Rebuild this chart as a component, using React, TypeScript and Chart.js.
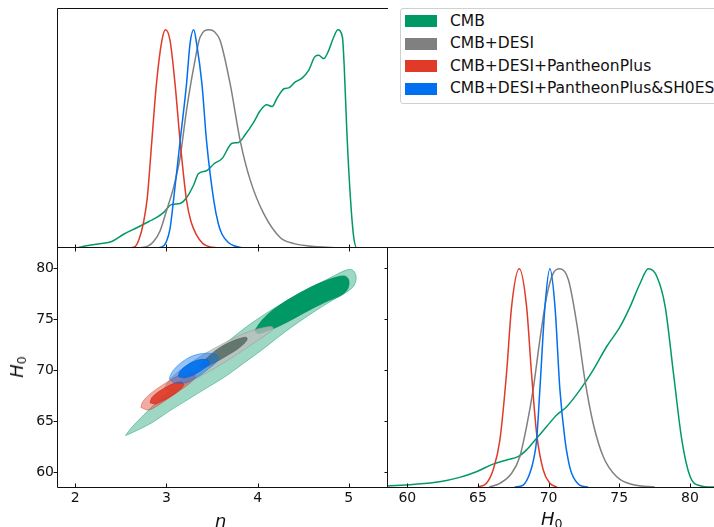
import React, { useEffect, useRef } from "react";
import { Chart, registerables } from "chart.js";
Chart.register(...registerables);

// ---------- axes ----------
const N_TICKS = [2, 3, 4, 5];
const H0_TICKS = [60, 65, 70, 75, 80];
const N_RANGE = [1.8, 5.43];
const H0_RANGE = [58.56, 82.06];
const P_RANGE = [0, 1.1];

// ---------- series ----------
const SERIES = ["CMB", "CMB+DESI", "CMB+DESI+PantheonPlus", "CMB+DESI+PantheonPlus&SH0ES"];
const COLORS = ["#009966", "#808080", "#e03a28", "#0070f0"];

// 1D marginal of n  [n, P/Pmax]
const N_CMB = [
  [1.8, 0], [1.98, 0], [2.125, 0.01], [2.27, 0.02], [2.4, 0.03], [2.53, 0.063], [2.675, 0.093],
  [2.82, 0.124], [2.894, 0.14], [2.967, 0.162], [3.06, 0.2], [3.15, 0.204], [3.22, 0.23],
  [3.3, 0.29], [3.35, 0.34], [3.44, 0.354], [3.52, 0.385], [3.61, 0.41], [3.72, 0.48],
  [3.79, 0.484], [3.865, 0.52], [3.956, 0.576], [4.03, 0.63], [4.1, 0.656], [4.16, 0.648],
  [4.21, 0.684], [4.29, 0.73], [4.34, 0.734], [4.41, 0.76], [4.49, 0.78], [4.56, 0.814],
  [4.63, 0.878], [4.67, 0.883], [4.725, 0.868], [4.78, 0.906], [4.835, 0.967], [4.88, 1.0],
  [4.93, 0.967], [4.95, 0.83], [4.98, 0.52], [5.02, 0.216], [5.055, 0.047], [5.09, 0], [5.43, 0],
];
const N_DESI = [
  [2.7, 0], [2.8, 0.01], [2.86, 0.03], [2.93, 0.078], [3.0, 0.17], [3.08, 0.28], [3.15, 0.415],
  [3.22, 0.63], [3.3, 0.83], [3.37, 0.967], [3.47, 1.0], [3.53, 0.99], [3.59, 0.95], [3.7, 0.75],
  [3.81, 0.49], [3.92, 0.31], [4.07, 0.155], [4.25, 0.047], [4.4, 0.02], [4.54, 0.01],
  [4.8, 0.002], [5.0, 0],
];
const N_PAN = [
  [2.55, 0], [2.65, 0.005], [2.7, 0.04], [2.75, 0.12], [2.79, 0.23], [2.84, 0.49], [2.89, 0.75],
  [2.95, 0.95], [2.99, 1.0], [3.04, 0.95], [3.095, 0.75], [3.15, 0.49], [3.22, 0.22],
  [3.27, 0.12], [3.33, 0.06], [3.4, 0.02], [3.5, 0.003], [3.6, 0],
];
const N_SH0ES = [
  [2.85, 0], [2.95, 0.005], [3.0, 0.03], [3.04, 0.09], [3.077, 0.216], [3.15, 0.49], [3.22, 0.75],
  [3.26, 0.94], [3.3, 1.0], [3.33, 0.94], [3.39, 0.75], [3.44, 0.49], [3.52, 0.216], [3.57, 0.11],
  [3.61, 0.063], [3.68, 0.025], [3.74, 0.01], [3.85, 0],
];

// 1D marginal of H0  [H0, P/Pmax]
const H_CMB = [
  [58.56, 0.005], [60.4, 0.012], [62.29, 0.024], [63.7, 0.044], [64.89, 0.07], [66.07, 0.105],
  [67.02, 0.124], [67.84, 0.139], [68.44, 0.17], [69.15, 0.223], [69.86, 0.277], [70.57, 0.33],
  [71.28, 0.368], [72.22, 0.445], [73.16, 0.537], [74.11, 0.644], [75.06, 0.735], [75.77, 0.827],
  [76.48, 0.934], [77.06, 1.0], [77.66, 0.965], [78.25, 0.827], [78.84, 0.52], [79.43, 0.215],
  [80.02, 0.047], [80.73, 0.006], [81.5, 0], [82.06, 0],
];
const H_DESI = [
  [65.8, 0], [66.55, 0.017], [67.38, 0.063], [67.96, 0.139], [68.44, 0.277], [68.9, 0.445],
  [69.38, 0.674], [69.86, 0.873], [70.33, 0.98], [70.8, 1.0], [71.4, 0.95], [71.99, 0.75],
  [72.57, 0.49], [73.16, 0.29], [73.87, 0.139], [74.82, 0.047], [76.0, 0.01], [77.5, 0],
];
const H_PAN = [
  [65.0, 0], [65.6, 0.017], [66.07, 0.078], [66.55, 0.215], [67.02, 0.52], [67.38, 0.827],
  [67.92, 1.0], [68.44, 0.827], [68.79, 0.52], [69.15, 0.246], [69.62, 0.078], [70.09, 0.017],
  [70.6, 0],
];
const H_SH0ES = [
  [67.6, 0], [68.2, 0.009], [68.67, 0.063], [68.95, 0.13], [69.15, 0.215], [69.38, 0.445],
  [69.74, 0.827], [70.09, 1.0], [70.45, 0.827], [70.8, 0.445], [71.16, 0.215], [71.4, 0.12],
  [71.63, 0.063], [72.2, 0.009], [72.8, 0],
];

// 2D contours (n, H0): 95% and 68% boundaries
const CMB_95 = [
  [2.55, 63.6], [2.62, 64.4], [2.75, 65.6], [2.9, 66.9], [3.1, 68.5], [3.3, 70.0], [3.5, 71.5],
  [3.7, 73.0], [3.9, 74.4], [4.1, 75.6], [4.3, 76.7], [4.5, 77.7], [4.7, 78.6], [4.85, 79.3],
  [4.97, 79.8], [5.03, 79.85], [5.07, 79.5], [5.08, 78.85], [5.05, 78.2], [4.97, 77.6],
  [4.85, 77.0], [4.65, 75.9], [4.45, 74.7], [4.25, 73.4], [4.05, 72.0], [3.85, 70.7],
  [3.65, 69.4], [3.45, 68.3], [3.25, 67.2], [3.05, 66.1], [2.85, 64.9], [2.7, 64.2], [2.58, 63.7],
];
const CMB_68 = [
  [3.97, 73.9], [4.05, 74.9], [4.2, 76.1], [4.45, 77.5], [4.7, 78.6], [4.88, 79.15], [4.96, 79.2],
  [5.0, 78.8], [4.99, 78.0], [4.92, 77.35], [4.75, 76.7], [4.55, 75.8], [4.3, 74.6], [4.1, 73.8],
  [4.0, 73.6],
];
const DESI_95 = [
  [2.98, 68.3], [3.05, 69.2], [3.2, 70.3], [3.4, 71.5], [3.6, 72.5], [3.8, 73.4], [3.95, 73.9],
  [4.08, 74.2], [4.16, 74.25], [4.17, 74.0], [4.1, 73.5], [3.95, 72.6], [3.75, 71.4], [3.55, 70.3],
  [3.35, 69.3], [3.15, 68.4], [3.03, 68.0],
];
const DESI_68 = [
  [3.35, 70.4], [3.42, 71.0], [3.55, 72.0], [3.7, 72.75], [3.82, 73.15], [3.88, 73.2], [3.88, 72.9],
  [3.8, 72.2], [3.65, 71.35], [3.5, 70.6], [3.4, 70.2],
];
const PAN_95 = [
  [2.72, 66.35], [2.74, 66.9], [2.8, 67.5], [2.9, 68.2], [3.02, 68.9], [3.14, 69.5], [3.24, 69.75],
  [3.31, 69.6], [3.31, 69.2], [3.24, 68.6], [3.13, 67.9], [3.0, 67.1], [2.88, 66.4], [2.8, 66.1],
];
const PAN_68 = [
  [2.82, 66.8], [2.84, 67.3], [2.9, 67.8], [2.99, 68.3], [3.08, 68.7], [3.16, 68.85], [3.19, 68.6],
  [3.15, 68.1], [3.06, 67.5], [2.96, 67.0], [2.88, 66.7],
];
const SH0ES_95 = [
  [3.03, 69.15], [3.06, 69.8], [3.13, 70.5], [3.22, 71.1], [3.32, 71.5], [3.42, 71.65], [3.52, 71.6],
  [3.57, 71.3], [3.55, 70.8], [3.47, 70.2], [3.37, 69.5], [3.26, 68.95], [3.17, 68.7], [3.08, 68.8],
];
const SH0ES_68 = [
  [3.13, 69.4], [3.15, 69.9], [3.22, 70.45], [3.3, 70.85], [3.38, 71.05], [3.45, 71.0], [3.47, 70.75],
  [3.43, 70.3], [3.35, 69.8], [3.26, 69.4], [3.18, 69.25],
];

// ---------- helpers ----------
const TICK_FONT = { family: "'DejaVu Sans', sans-serif", size: 14 };

const framePlugin = {
  id: "frame",
  afterDatasetsDraw(chart: any, _a: any, opts: any) {
    const { ctx, chartArea: a, scales } = chart;
    const L = Math.round(a.left) + 0.5;
    const R = Math.round(a.right) + 0.5;
    const T = Math.round(a.top) + 0.5;
    const B = Math.round(a.bottom) + 0.5;
    ctx.save();
    ctx.strokeStyle = "#111";
    ctx.lineWidth = 1;
    ctx.beginPath();
    ctx.moveTo(L, T); ctx.lineTo(R, T); ctx.lineTo(R, B); ctx.lineTo(L, B); ctx.closePath();
    const len = 4;
    for (const t of opts.ticks || []) {
      const sc = scales[t.axis];
      for (const v of t.values) {
        const p = Math.round(sc.getPixelForValue(v)) + 0.5;
        if (t.side === "bottom") { ctx.moveTo(p, B); ctx.lineTo(p, B - len * t.dir); }
        if (t.side === "top") { ctx.moveTo(p, T); ctx.lineTo(p, T + len * t.dir); }
        if (t.side === "left") { ctx.moveTo(L, p); ctx.lineTo(L + len * t.dir, p); }
        if (t.side === "right") { ctx.moveTo(R, p); ctx.lineTo(R - len * t.dir, p); }
      }
    }
    ctx.stroke();
    ctx.restore();
  },
};

const line1D = (pts: number[][], color: string, order: number) => ({
  data: pts.map(([x, y]) => ({ x, y })),
  showLine: true,
  borderColor: color,
  borderWidth: 1.5,
  pointRadius: 0,
  fill: false,
  cubicInterpolationMode: "monotone",
  order,
});

const contour = (pts: number[][], fill: string, border: string, order: number) => ({
  data: [...pts, pts[0]].map(([x, y]) => ({ x, y })),
  showLine: true,
  fill: "shape",
  backgroundColor: fill,
  borderColor: border,
  borderWidth: 0.8,
  pointRadius: 0,
  tension: 0.35,
  order,
});

const common = (frame: any) => ({
  animation: false,
  responsive: false,
  events: [],
  plugins: { legend: { display: false }, tooltip: { enabled: false }, frame },
});

const linAxis = (range: number[], ticks: number[], fitFn: (s: any) => void) => ({
  type: "linear",
  min: range[0],
  max: range[1],
  afterBuildTicks: (s: any) => { s.ticks = ticks.map((v) => ({ value: v })); },
  afterFit: (s: any) => {
    fitFn(s);
    s.paddingTop = 0; s.paddingBottom = 0; s.paddingLeft = 0; s.paddingRight = 0;
  },
  grid: { display: false, drawTicks: false },
  border: { display: false },
  ticks: { font: TICK_FONT, color: "#111", autoSkip: false, maxRotation: 0, padding: 3 },
});

export default function App() {
  const refA = useRef<HTMLCanvasElement>(null);
  const refB = useRef<HTMLCanvasElement>(null);
  const refC = useRef<HTMLCanvasElement>(null);

  useEffect(() => {
    const [cG, cK, cR, cB] = COLORS;
    const chartA = new Chart(refA.current as HTMLCanvasElement, {
      type: "scatter",
      data: {
        datasets: [
          line1D(N_CMB, cG, 4), line1D(N_DESI, cK, 3), line1D(N_PAN, cR, 2), line1D(N_SH0ES, cB, 1),
        ] as any,
      },
      options: {
        ...common({ ticks: [{ axis: "x", side: "bottom", values: N_TICKS, dir: 1 }] }),
        layout: { padding: { left: 57, top: 8, right: 0, bottom: 0 } },
        scales: {
          x: { type: "linear", min: N_RANGE[0], max: N_RANGE[1], display: false },
          y: { type: "linear", min: P_RANGE[0], max: P_RANGE[1], display: false },
        },
      } as any,
      plugins: [framePlugin],
    });

    const chartB = new Chart(refB.current as HTMLCanvasElement, {
      type: "scatter",
      data: {
        datasets: [
          contour(CMB_95, "rgba(0,153,102,0.38)", "rgba(0,153,102,0.55)", 8),
          contour(CMB_68, "rgba(0,153,102,1)", "rgba(0,140,95,0.9)", 7),
          contour(DESI_95, "rgba(190,190,190,0.75)", "rgba(150,150,150,0.7)", 6),
          contour(DESI_68, "rgba(80,100,90,0.8)", "rgba(90,100,95,0.8)", 5),
          contour(PAN_95, "rgba(224,58,40,0.42)", "rgba(224,58,40,0.6)", 4),
          contour(PAN_68, "rgba(224,58,40,0.9)", "rgba(200,50,35,0.9)", 3),
          contour(SH0ES_95, "rgba(0,112,240,0.42)", "rgba(0,112,240,0.6)", 2),
          contour(SH0ES_68, "rgba(0,112,240,0.9)", "rgba(0,100,220,0.9)", 1),
        ] as any,
      },
      options: {
        ...common({
          ticks: [
            { axis: "x", side: "bottom", values: N_TICKS, dir: 1 },
            { axis: "x", side: "top", values: N_TICKS, dir: 1 },
            { axis: "y", side: "left", values: H0_TICKS, dir: -1 },
            { axis: "y", side: "right", values: H0_TICKS, dir: 1 },
          ],
        }),
        layout: { padding: { left: 0, top: 0, right: 0, bottom: 0 } },
        scales: {
          x: linAxis(N_RANGE, N_TICKS, (s: any) => { s.height = 40; }),
          y: linAxis(H0_RANGE, H0_TICKS, (s: any) => { s.width = 57; }),
        },
      } as any,
      plugins: [framePlugin],
    });

    const chartC = new Chart(refC.current as HTMLCanvasElement, {
      type: "scatter",
      data: {
        datasets: [
          line1D(H_CMB, cG, 4), line1D(H_DESI, cK, 3), line1D(H_PAN, cR, 2), line1D(H_SH0ES, cB, 1),
        ] as any,
      },
      options: {
        ...common({ ticks: [{ axis: "x", side: "bottom", values: H0_TICKS, dir: 1 }] }),
        layout: { padding: { left: 7, top: 7, right: 11, bottom: 0 } },
        scales: {
          x: linAxis(H0_RANGE, H0_TICKS, (s: any) => { s.height = 40; }),
          y: { type: "linear", min: P_RANGE[0], max: P_RANGE[1], display: false },
        },
      } as any,
      plugins: [framePlugin],
    });

    return () => { chartA.destroy(); chartB.destroy(); chartC.destroy(); };
  }, []);

  const labelFont = "'DejaVu Sans', sans-serif";
  const H0Label = (
    <span>
      <span style={{ fontStyle: "italic" }}>H</span>
      <span style={{ fontSize: "0.7em", position: "relative", top: "0.25em" }}>0</span>
    </span>
  );

  return (
    <div
      style={{
        position: "fixed", left: 0, top: 0, width: 714, height: 527, overflow: "hidden",
        background: "#fff", fontFamily: labelFont, color: "#111",
      }}
    >
      <canvas ref={refA} width={388} height={248} style={{ position: "absolute", left: 0, top: 0 }} />
      <canvas ref={refB} width={388} height={280} style={{ position: "absolute", left: 0, top: 247 }} />
      <canvas ref={refC} width={350} height={287} style={{ position: "absolute", left: 380, top: 240 }} />

      {/* axis titles */}
      <div style={{ position: "absolute", left: 215, top: 512, fontSize: 18, lineHeight: "18px", fontStyle: "italic" }}>
        n
      </div>
      <div style={{ position: "absolute", left: 541, top: 510, fontSize: 18, lineHeight: "18px", whiteSpace: "nowrap" }}>
        {H0Label}
      </div>
      <div
        style={{
          position: "absolute", left: 18, top: 367, fontSize: 18, lineHeight: "18px", whiteSpace: "nowrap",
          transform: "translate(-50%, -50%) rotate(-90deg)",
        }}
      >
        {H0Label}
      </div>

      {/* legend */}
      <div
        style={{
          position: "absolute", left: 400, top: 8, width: 330, height: 94, border: "1px solid #d0d0d0",
          borderRadius: 3, background: "#fff",
        }}
      >
        {SERIES.map((name, i) => (
          <React.Fragment key={name}>
            <div
              style={{
                position: "absolute", left: 4, top: 6 + 22.5 * i, width: 32, height: 12, background: COLORS[i],
              }}
            />
            <div
              style={{
                position: "absolute", left: 49, top: 4.5 + 22.5 * i, fontSize: 15.5, lineHeight: "15.5px",
                whiteSpace: "nowrap", color: "#111",
              }}
            >
              {name}
            </div>
          </React.Fragment>
        ))}
      </div>
    </div>
  );
}
